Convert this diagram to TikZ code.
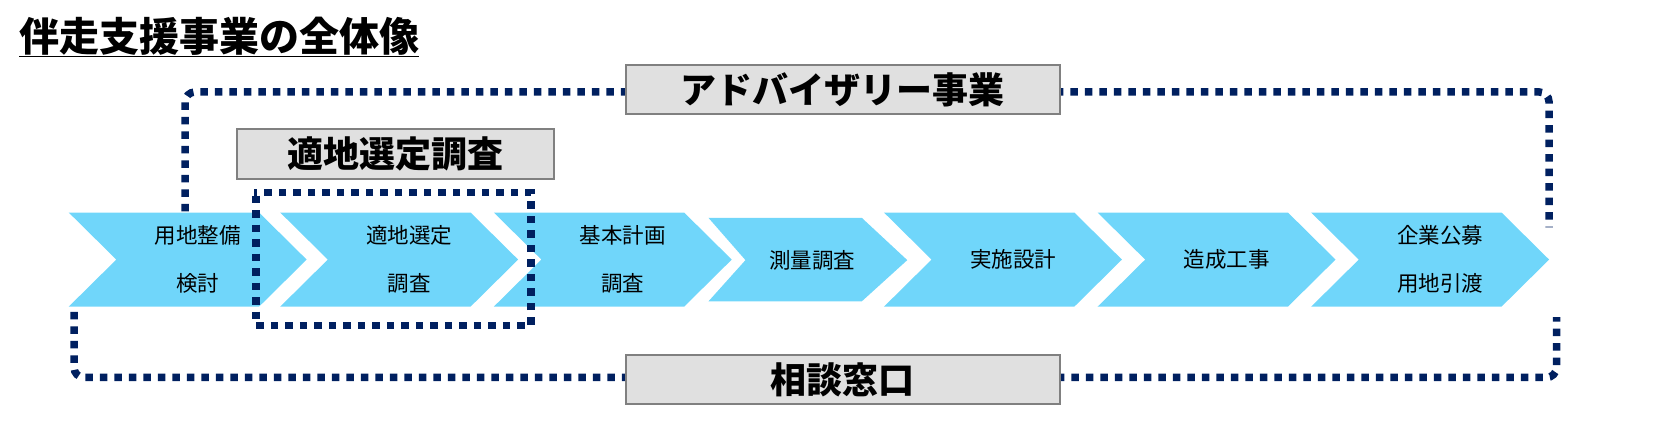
\documentclass[tikz,border=0pt]{standalone}
\usepackage{fontspec}
\setmainfont{Noto Sans CJK JP}
\usetikzlibrary{positioning}
\definecolor{chev}{RGB}{112,214,250}
\definecolor{navy}{RGB}{0,32,96}
\definecolor{boxfill}{RGB}{224,224,224}
\definecolor{boxline}{RGB}{128,128,128}
\tikzset{
  loopline/.style={navy,line width=7.5pt,dash pattern=on 7.5pt off 7pt},
  labelbox/.style={draw=boxline,line width=2.2pt,fill=boxfill,font=\fontsize{36}{36}\selectfont\bfseries,inner sep=0pt},
  steptext/.style={font=\fontsize{21.5}{48}\selectfont,align=center},
}
\newcommand{\chevron}[4]{% x, top, bottom, name
  \fill[chev] (#1,#2) -- ++(180,0) -- (#1+225,{(#2+#3)/2}) -- (#1+180,#3) -- (#1,#3) -- (#1+45,{(#2+#3)/2}) -- cycle;
  \coordinate (#4) at (#1+122,{(#2+#3)/2});
}
\begin{document}
\begin{tikzpicture}[x=1.0574pt,y=-1.0574pt]
  % title
  \node[anchor=west,inner sep=0pt,font=\fontsize{40}{40}\selectfont\bfseries] (title) at (18,35) {\underline{伴走支援事業の全体像}};

  % big loop
  \draw[loopline,rounded corners=10pt] (175,200) -- (175,87) -- (1465,87) -- (1465,215);
  \draw[loopline,rounded corners=10pt] (70,295) -- (70,357) -- (1472,357) -- (1472,300);

  % steps
  \chevron{65}{201}{290}{s1}
  \chevron{265}{201}{290}{s2}
  \chevron{467}{201}{290}{s3}
  \fill[chev] (670,206) -- (815,206) -- (858,246) -- (815,285) -- (670,285) -- (705,246) -- cycle;
  \coordinate (s4) at (768,246);
  \chevron{836}{201}{290}{s5}
  \chevron{1038}{201}{290}{s6}
  \chevron{1240}{201}{290}{s7}

  \node[steptext] (t1) at (s1) {用地整備\\検討};
  \node[steptext] (t2) at (s2) {適地選定\\調査};
  \node[steptext] (t3) at (s3) {基本計画\\調査};
  \node[steptext] (t4) at (s4) {測量調査};
  \node[steptext] (t5) at (s5) {実施設計};
  \node[steptext] (t6) at (s6) {造成工事};
  \node[steptext] (t7) at (s7) {企業公募\\用地引渡};

  % small loop
  \draw[loopline] (242,185) -- (242,308) -- (502,308) -- (502,182) -- (240,182);

  % labels
  \node[labelbox,minimum width=434pt,minimum height=49pt] (adv) at (797,85) {アドバイザリー事業};
  \node[labelbox,minimum width=317pt,minimum height=50pt] (site) at (374,146) {適地選定調査};
  \node[labelbox,minimum width=434pt,minimum height=49pt] (desk) at (797,359) {相談窓口};

  \pgfresetboundingbox
  \useasboundingbox (0,0) rectangle (1568,406.6);
\end{tikzpicture}
\end{document}
